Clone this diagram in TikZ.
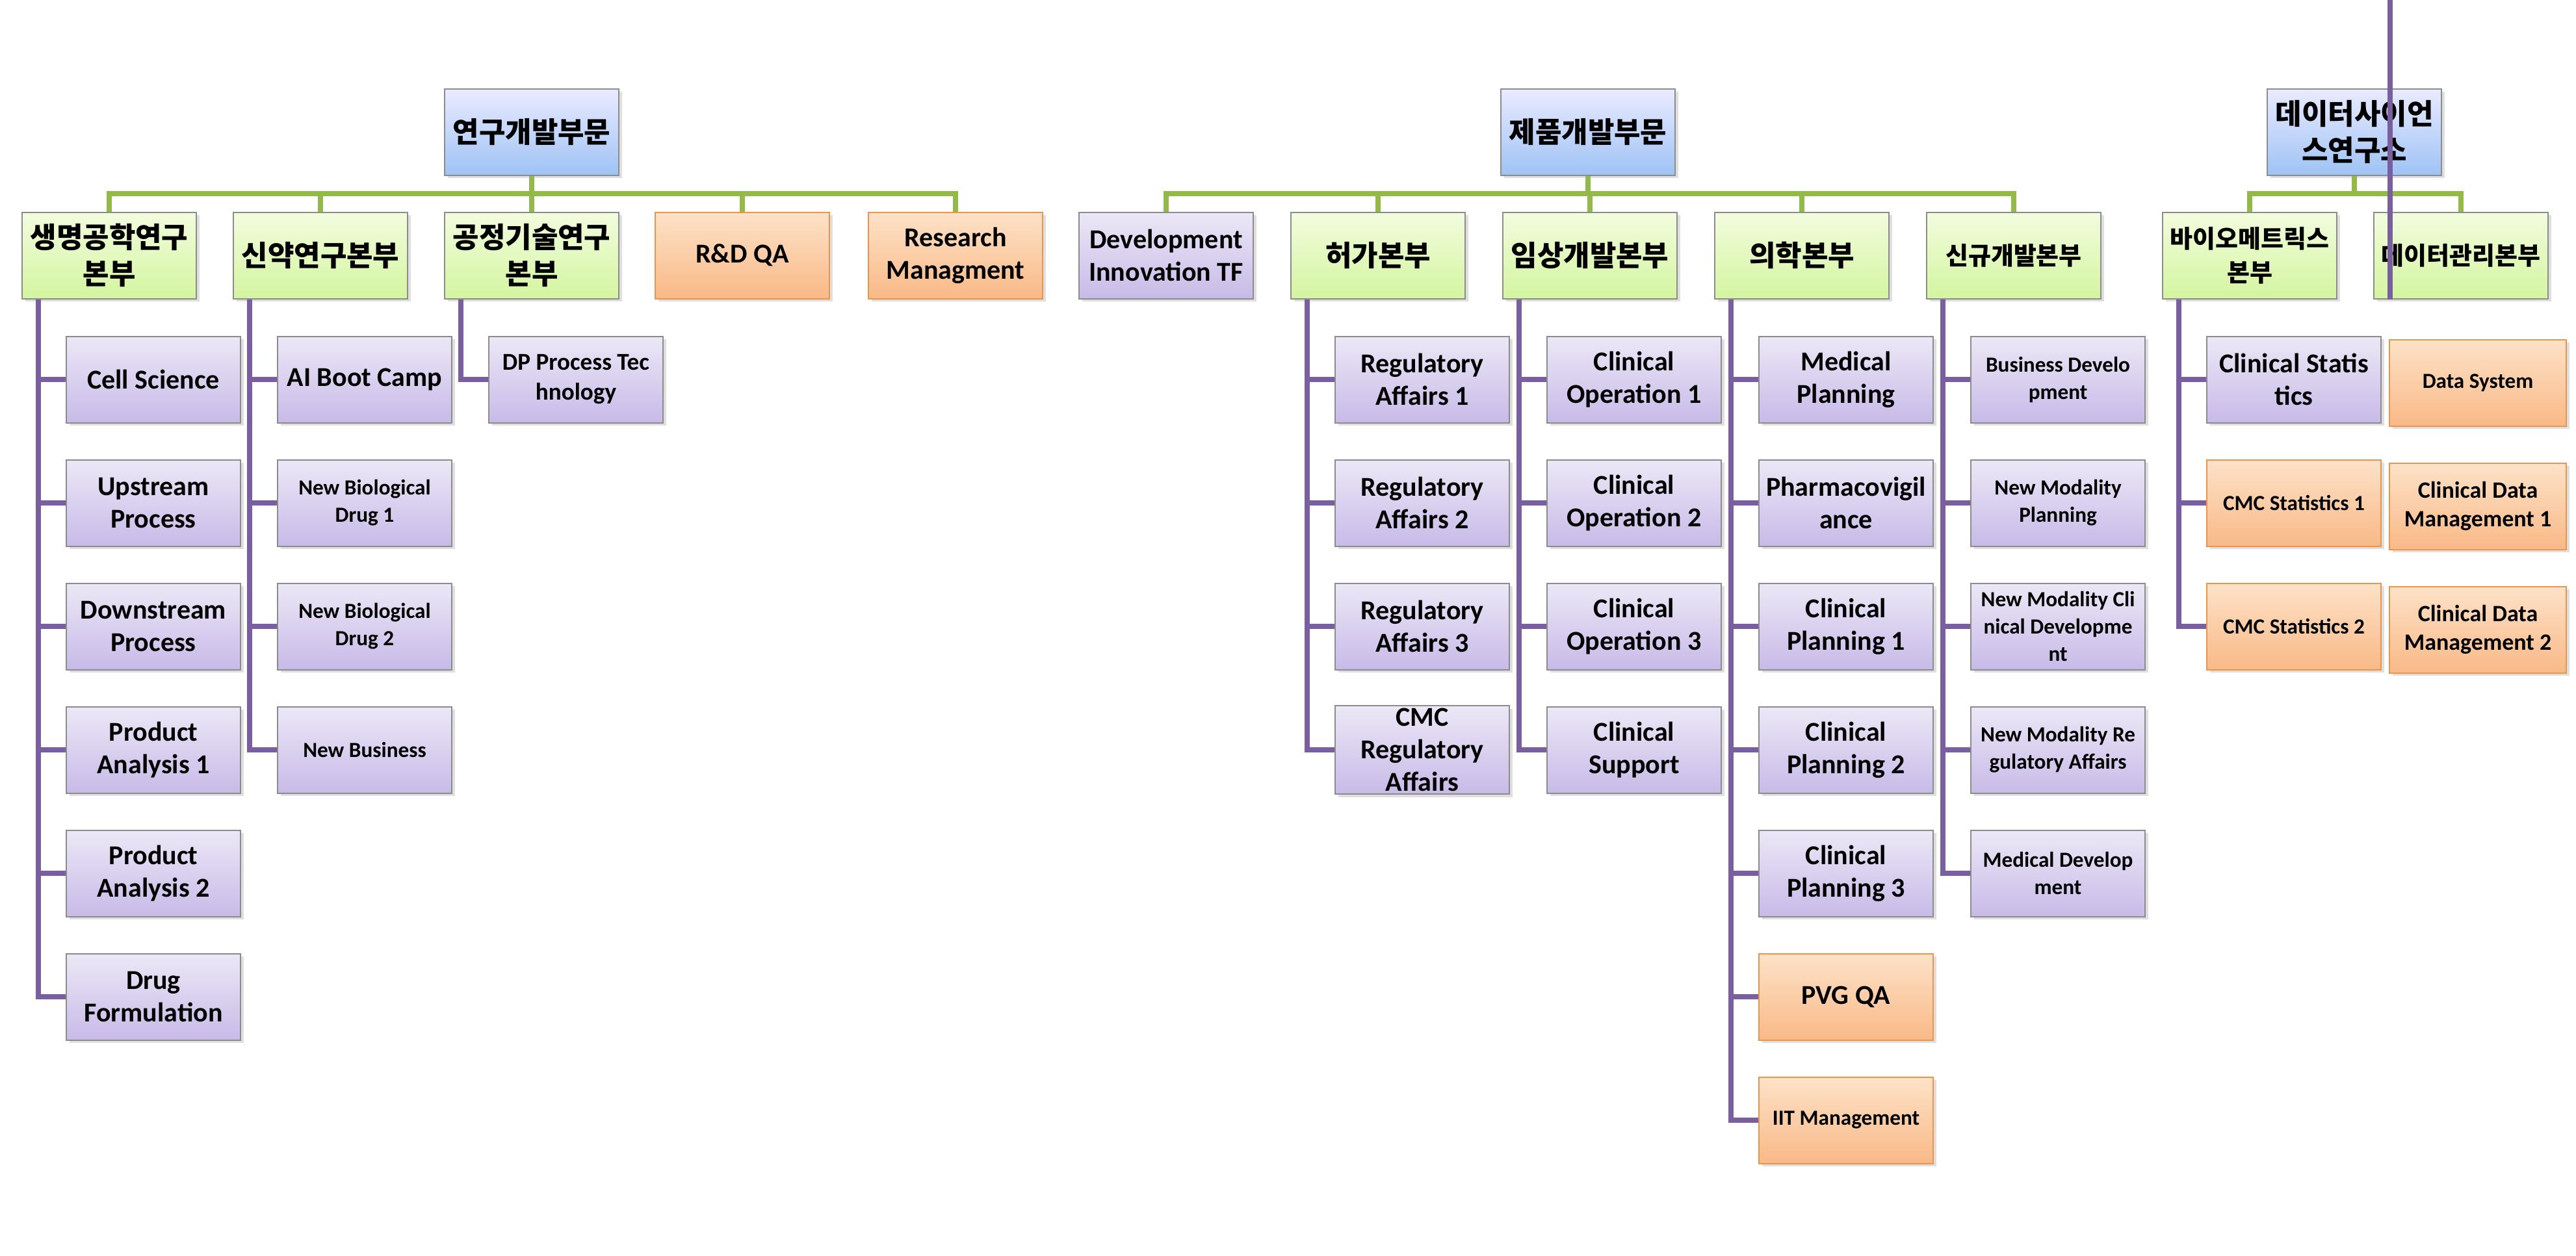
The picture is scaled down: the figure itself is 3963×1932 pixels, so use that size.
\documentclass[tikz,border=0pt]{standalone}
\usepackage{fontspec}
\setmainfont{Carlito}
\newfontfamily\kr{Noto Sans CJK KR}
\usetikzlibrary{shadows}
\definecolor{busg}{HTML}{92B94A}
\definecolor{linep}{HTML}{7A5FA0}
\tikzset{
 box/.style={draw=black!45,line width=0.5pt,minimum width=67pt,minimum height=33.25pt,inner sep=1pt,align=center,font=\bfseries,
   drop shadow={opacity=0.25,shadow xshift=1.2pt,shadow yshift=-1.2pt}},
 top/.style={box,top color=blue!8!white,bottom color={rgb,255:red,158;green,195;blue,245}},
 lone/.style={box,top color={rgb,255:red,242;green,252;blue,222},bottom color={rgb,255:red,212;green,245;blue,160}},
 pur/.style={box,top color={rgb,255:red,236;green,232;blue,246},bottom color={rgb,255:red,200;green,186;blue,232}},
 org/.style={box,draw={rgb,255:red,231;green,150;blue,80},top color={rgb,255:red,253;green,226;blue,200},bottom color={rgb,255:red,249;green,185;blue,135}},
 K/.style={font=\kr\bfseries\fontsize{11}{14}\selectfont},
 Ks/.style={font=\kr\bfseries\fontsize{9.5}{13}\selectfont},
 L/.style={font=\bfseries\fontsize{10.5}{12.5}\selectfont},
 S/.style={font=\bfseries\fontsize{8.3}{10.5}\selectfont},
 bus/.style={draw=busg,line width=2pt},
 vl/.style={draw=linep,line width=2pt},
}
\begin{document}
\begin{tikzpicture}[x=0.25pt,y=-0.25pt]
\useasboundingbox (0,0) rectangle (3963,1932);
% ---------- section 1
\node[top,K] (t1) at (818,203) {연구개발부문};
\node[lone,K] (a1) at (168,393) {생명공학연구\\본부};
\node[lone,K] (a2) at (493,393) {신약연구본부};
\node[lone,K] (a3) at (818,393) {공정기술연구\\본부};
\node[org,L] (a4) at (1142,393) {R\&D QA};
\node[org,L] (a5) at (1470,393) {Research\\Managment};
\coordinate (b1) at (818,298);
\draw[bus] (t1.south) -- (b1);
\foreach \n in {a1,a2,a3,a4,a5} \draw[bus] (\n.north) |- (b1);
% children
\node[pur,L] (c11) at (236,584) {Cell Science};
\node[pur,L] (c12) at (236,774) {Upstream\\Process};
\node[pur,L] (c13) at (236,964) {Downstream\\Process};
\node[pur,L] (c14) at (236,1154) {Product\\Analysis 1};
\node[pur,L] (c15) at (236,1344) {Product\\Analysis 2};
\node[pur,L] (c16) at (236,1534) {Drug\\Formulation};
\node[pur,L] (c21) at (561,584) {AI Boot Camp};
\node[pur,S] (c22) at (561,774) {New Biological\\Drug 1};
\node[pur,S] (c23) at (561,964) {New Biological\\Drug 2};
\node[pur,S] (c24) at (561,1154) {New Business};
\node[pur,S,font=\bfseries\fontsize{9.3}{11.5}\selectfont] (c31) at (886,584) {DP Process Tec\\hnology};
\foreach \c in {c11,c12,c13,c14,c15,c16} \draw[vl] ([xshift=6.5pt]a1.south west) |- (\c.west);
\foreach \c in {c21,c22,c23,c24} \draw[vl] ([xshift=6.5pt]a2.south west) |- (\c.west);
\draw[vl] ([xshift=6.5pt]a3.south west) |- (c31.west);
% ---------- section 2
\node[top,K] (t2) at (2443,203) {제품개발부문};
\node[pur,L] (d1) at (1794,393) {Development\\Innovation TF};
\node[lone,K] (d2) at (2120,393) {허가본부};
\node[lone,K] (d3) at (2446,393) {임상개발본부};
\node[lone,K] (d4) at (2772,393) {의학본부};
\node[lone,Ks] (d5) at (3098,393) {신규개발본부};
\coordinate (b2) at (2443,298);
\draw[bus] (t2.south) -- (b2);
\foreach \n in {d1,d2,d3,d4,d5} \draw[bus] (\n.north) |- (b2);
\node[pur,L] (e21) at (2188,584) {Regulatory\\Affairs 1};
\node[pur,L] (e22) at (2188,774) {Regulatory\\Affairs 2};
\node[pur,L] (e23) at (2188,964) {Regulatory\\Affairs 3};
\node[pur,L] (e24) at (2188,1154) {CMC\\Regulatory\\Affairs};
\node[pur,L] (e31) at (2514,584) {Clinical\\Operation 1};
\node[pur,L] (e32) at (2514,774) {Clinical\\Operation 2};
\node[pur,L] (e33) at (2514,964) {Clinical\\Operation 3};
\node[pur,L] (e34) at (2514,1154) {Clinical\\Support};
\node[pur,L] (e41) at (2840,584) {Medical\\Planning};
\node[pur,L] (e42) at (2840,774) {Pharmacovigil\\ance};
\node[pur,L] (e43) at (2840,964) {Clinical\\Planning 1};
\node[pur,L] (e44) at (2840,1154) {Clinical\\Planning 2};
\node[pur,L] (e45) at (2840,1344) {Clinical\\Planning 3};
\node[org,L] (e46) at (2840,1534) {PVG QA};
\node[org,S] (e47) at (2840,1724) {IIT Management};
\node[pur,S] (e51) at (3166,584) {Business Develo\\pment};
\node[pur,S] (e52) at (3166,774) {New Modality\\Planning};
\node[pur,S] (e53) at (3166,964) {New Modality Cli\\nical Developme\\nt};
\node[pur,S] (e54) at (3166,1154) {New Modality Re\\gulatory Affairs};
\node[pur,S] (e55) at (3166,1344) {Medical Develop\\ment};
\foreach \c in {e21,e22,e23,e24} \draw[vl] ([xshift=6.5pt]d2.south west) |- (\c.west);
\foreach \c in {e31,e32,e33,e34} \draw[vl] ([xshift=6.5pt]d3.south west) |- (\c.west);
\foreach \c in {e41,e42,e43,e44,e45,e46,e47} \draw[vl] ([xshift=6.5pt]d4.south west) |- (\c.west);
\foreach \c in {e51,e52,e53,e54,e55} \draw[vl] ([xshift=6.5pt]d5.south west) |- (\c.west);
% ---------- section 3
\node[top,K] (t3) at (3622,203) {데이터사이언\\스연구소};
\node[lone,Ks] (f1) at (3461,393) {바이오메트릭스\\본부};
\node[lone,Ks] (f2) at (3786,393) {데이터관리본부};
\coordinate (b3) at (3622,298);
\draw[bus] (t3.south) -- (b3);
\foreach \n in {f1,f2} \draw[bus] (\n.north) |- (b3);
\node[pur,L] (g11) at (3529,584) {Clinical Statis\\tics};
\node[org,S] (g12) at (3529,774) {CMC Statistics 1};
\node[org,S] (g13) at (3529,964) {CMC Statistics 2};
\foreach \c in {g11,g12,g13} \draw[vl] ([xshift=6.5pt]f1.south west) |- (\c.west);
\coordinate (v2) at ([xshift=6.5pt]f2.south west);
\draw[vl] (v2) -- ++(0,-580);
\node[org,S,minimum width=68pt] (g21) at (3812,589) {Data System};
\node[org,S,minimum width=68pt,font=\bfseries\fontsize{9}{11}\selectfont] (g22) at (3812,779) {Clinical Data\\Management 1};
\node[org,S,minimum width=68pt,font=\bfseries\fontsize{9}{11}\selectfont] (g23) at (3812,969) {Clinical Data\\Management 2};
\end{tikzpicture}
\end{document}
